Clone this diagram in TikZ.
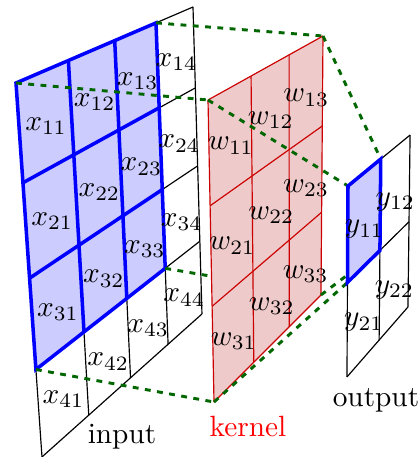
\documentclass[tikz,border=0pt]{standalone}
\usetikzlibrary{calc}
\definecolor{kernelfill}{RGB}{238,202,202}

% point (#3,#4) of a perspective quad #2A..#2D, corner weights 1,#5,#6
\newcommand{\perspt}[6]{%
  \pgfmathsetmacro\wA{(1-#3)*(1-#4)}%
  \pgfmathsetmacro\wB{#3*(1-#4)*#5}%
  \pgfmathsetmacro\wC{(1-#3)*#4*#6}%
  \pgfmathsetmacro\wD{#3*#4*(#5+#6-1)}%
  \coordinate (#1) at (barycentric cs:#2A=\wA,#2B=\wB,#2C=\wC,#2D=\wD);}

\begin{document}
\begin{tikzpicture}[x=0.012cm,y=-0.012cm]
  \tikzset{gridline/.style={line width=.4pt},
    blueline/.style={draw=blue,line width=1.2pt},
    redline/.style={draw=red!80!black,line width=.4pt},
    link/.style={green!40!black,line width=1pt,dash pattern=on 2pt off 2.2pt},
    cell/.style={inner sep=0pt,yshift=-2pt}}
  \useasboundingbox (0,0) rectangle (420,457);
  \coordinate (inA) at (16,83);
  \coordinate (inB) at (193,7);
  \coordinate (inC) at (42,457);
  \coordinate (inD) at (202,314);
  \coordinate (kA) at (208,100);
  \coordinate (kB) at (323,36);
  \coordinate (kC) at (214,402);
  \coordinate (kD) at (321,295);
  \coordinate (outA) at (348,186);
  \coordinate (outB) at (410,135);
  \coordinate (outC) at (347,377);
  \coordinate (outD) at (408,307);
  \foreach \i in {0,...,4}{\foreach \j in {0,...,4}{\perspt{in\i\j}{in}{\i/4}{\j/4}{1.261}{1.092}}}
  \foreach \i in {0,...,3}{\foreach \j in {0,...,3}{\perspt{k\i\j}{k}{\i/3}{\j/3}{1.198}{1.079}}}
  \foreach \i in {0,...,2}{\foreach \j in {0,...,2}{\perspt{out\i\j}{out}{\i/2}{\j/2}{1.119}{1.020}}}

  % input
  \fill[blue!20] (in00) -- (in30) -- (in33) -- (in03) -- cycle;
  \foreach \s in {0,...,4}{
    \draw[gridline] (in\s0) -- (in\s4);
    \draw[gridline] (in0\s) -- (in4\s);
  }
  \foreach \s in {1,2}{
    \draw[blueline] (in\s0) -- (in\s3);
    \draw[blueline] (in0\s) -- (in3\s);
  }
  \draw[blueline] (in00) -- (in30) -- (in33) -- (in03) -- cycle;
  \foreach \row in {1,...,4}{\foreach \col in {1,...,4}{
    \perspt{xc}{in}{(\col-.5)/4}{(\row-.5)/4}{1.261}{1.092}
    \node[cell] (x\row\col) at (xc) {$x_{\row\col}$};
  }}
  \draw[link] (in00) -- (k00);
  \draw[link] (in30) -- (k30);
  \draw[link] (in03) -- (k03);
  \draw[link] (in33) -- (k33);

  % kernel
  \fill[kernelfill] (k00) -- (k30) -- (k33) -- (k03) -- cycle;
  \foreach \s in {0,...,3}{
    \draw[redline] (k\s0) -- (k\s3);
    \draw[redline] (k0\s) -- (k3\s);
  }
  \foreach \row in {1,...,3}{\foreach \col in {1,...,3}{
    \perspt{wc}{k}{(\col-.5)/3}{(\row-.5)/3}{1.198}{1.079}
    \node[cell] (w\row\col) at (wc) {$w_{\row\col}$};
  }}
  \draw[link] (k00) -- (out00);
  \draw[link] (k30) -- (out10);
  \draw[link] (k03) -- (out01);
  \draw[link] (k33) -- (out11);

  % output
  \foreach \s in {0,...,2}{
    \draw[gridline] (out\s0) -- (out\s2);
    \draw[gridline] (out0\s) -- (out2\s);
  }
  \filldraw[fill=blue!20,blueline] (out00) -- (out10) -- (out11) -- (out01) -- cycle;
  \foreach \row in {1,2}{\foreach \col in {1,2}{
    \perspt{yc}{out}{(\col-.5)/2}{(\row-.5)/2}{1.119}{1.020}
    \node[cell,yshift=-1.5pt] (y\row\col) at (yc) {$y_{\row\col}$};
  }}

  \node (inlabel) at (122,437) {input};
  \node[red] (klabel) at (248,426) {kernel};
  \node (outlabel) at (376,400) {output};
\end{tikzpicture}
\end{document}
